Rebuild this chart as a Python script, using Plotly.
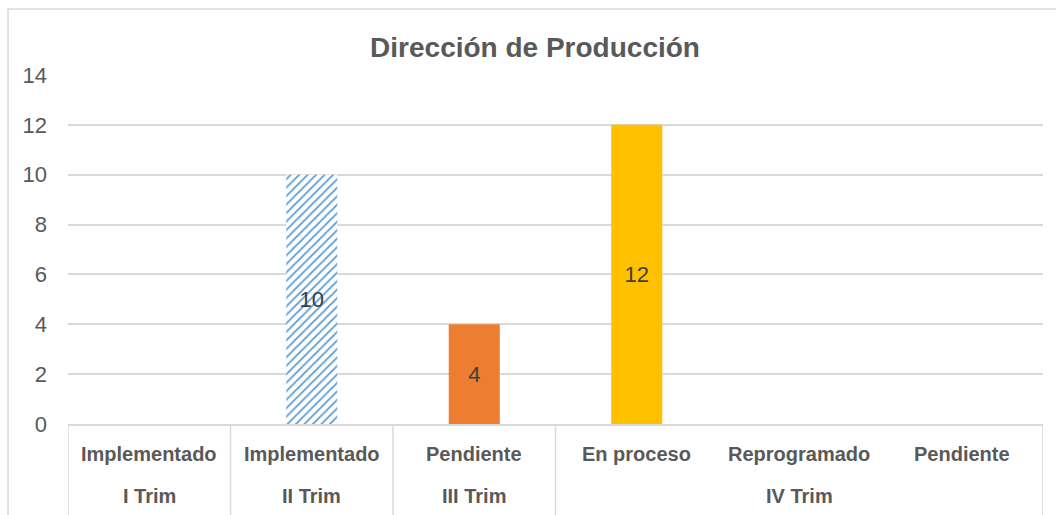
import plotly.graph_objects as go

# data
trimestres = ["I Trim", "II Trim", "III Trim", "IV Trim", "IV Trim", "IV Trim"]
estados = ["Implementado", "Implementado", "Pendiente", "En proceso", "Reprogramado", "Pendiente"]
valores = [None, 10, 4, 12, None, None]
colores = ["#5b9bd5", "#5b9bd5", "#ed7d31", "#ffc000", "#5b9bd5", "#5b9bd5"]
patrones = ["", "/", "", "", "", ""]
y_ticks = [0, 2, 4, 6, 8, 10, 12, 14]

GRID = "#d9d9d9"
TXT = "#595959"
LABEL_FONT = dict(size=20, color=TXT, family="Liberation Sans, Arial")

fig = go.Figure()
for i, (v, c, p) in enumerate(zip(valores, colores, patrones)):
    if p:
        marker = dict(color="#ffffff", line=dict(width=0),
                      pattern=dict(shape=p, fgcolor=c, bgcolor="#ffffff", fgopacity=1,
                                   size=6, solidity=0.3, fillmode="overlay"))
    else:
        marker = dict(color=c, line=dict(width=0))
    fig.add_trace(
        go.Bar(
            x=[i],
            y=[v],
            marker=marker,
            text=[f"{v}" if v else ""],
            textposition="inside",
            insidetextanchor="middle",
            textfont=dict(size=22, color="#404040", family="Liberation Sans, Arial"),
            showlegend=False,
            hoverinfo="skip",
        )
    )

# category labels (inner row and outer group row)
for i, e in enumerate(estados):
    fig.add_annotation(x=i, xref="x", y=0, yref="paper", yshift=-30, yanchor="middle",
                       text=f"<b>{e}</b>", showarrow=False, font=LABEL_FONT)

grupos = []
for i, t in enumerate(trimestres):
    if not grupos or grupos[-1][0] != t:
        grupos.append([t, i, i])
    else:
        grupos[-1][2] = i

for t, a, b in grupos:
    fig.add_annotation(x=(a + b) / 2, xref="x", y=0, yref="paper", yshift=-72, yanchor="middle",
                       text=f"<b>{t}</b>", showarrow=False, font=LABEL_FONT)

# dividers between groups
bordes = [grupos[0][1] - 0.5] + [b + 0.5 for _, _, b in grupos]
for xb in bordes:
    fig.add_shape(type="line", xref="x", yref="paper", x0=xb, x1=xb, y0=0, y1=-0.35,
                  line=dict(color=GRID, width=1.5))

# outer chart border
fig.add_shape(type="rect", xref="paper", yref="paper", x0=-0.0615, x1=1.03, y0=-0.35, y1=1.189,
              line=dict(color=GRID, width=1.5), fillcolor="rgba(0,0,0,0)", layer="below")

fig.update_layout(
    width=1056,
    height=515,
    margin=dict(l=68, r=13, t=75, b=91),
    paper_bgcolor="white",
    plot_bgcolor="white",
    barmode="overlay",
    bargap=0.686,
    title=dict(text="<b>Dirección de Producción</b>", x=0.479, xref="paper", xanchor="center",
               y=1 - 47 / 515, yref="container", yanchor="middle",
               font=dict(size=28, color=TXT, family="Liberation Sans, Arial")),
    xaxis=dict(range=[-0.5, 5.5], showticklabels=False, showgrid=False, zeroline=False,
               showline=True, linecolor=GRID, linewidth=1.5, fixedrange=True),
    yaxis=dict(range=[0, 14], tickvals=y_ticks, showgrid=True, gridcolor=GRID, gridwidth=1.5,
               zeroline=False, showline=False, ticklabelstandoff=20,
               tickfont=dict(size=22, color=TXT, family="Liberation Sans, Arial")),
)

fig.write_html("out.html", config={"displayModeBar": False},
               post_script="document.body.style.margin='0';")
